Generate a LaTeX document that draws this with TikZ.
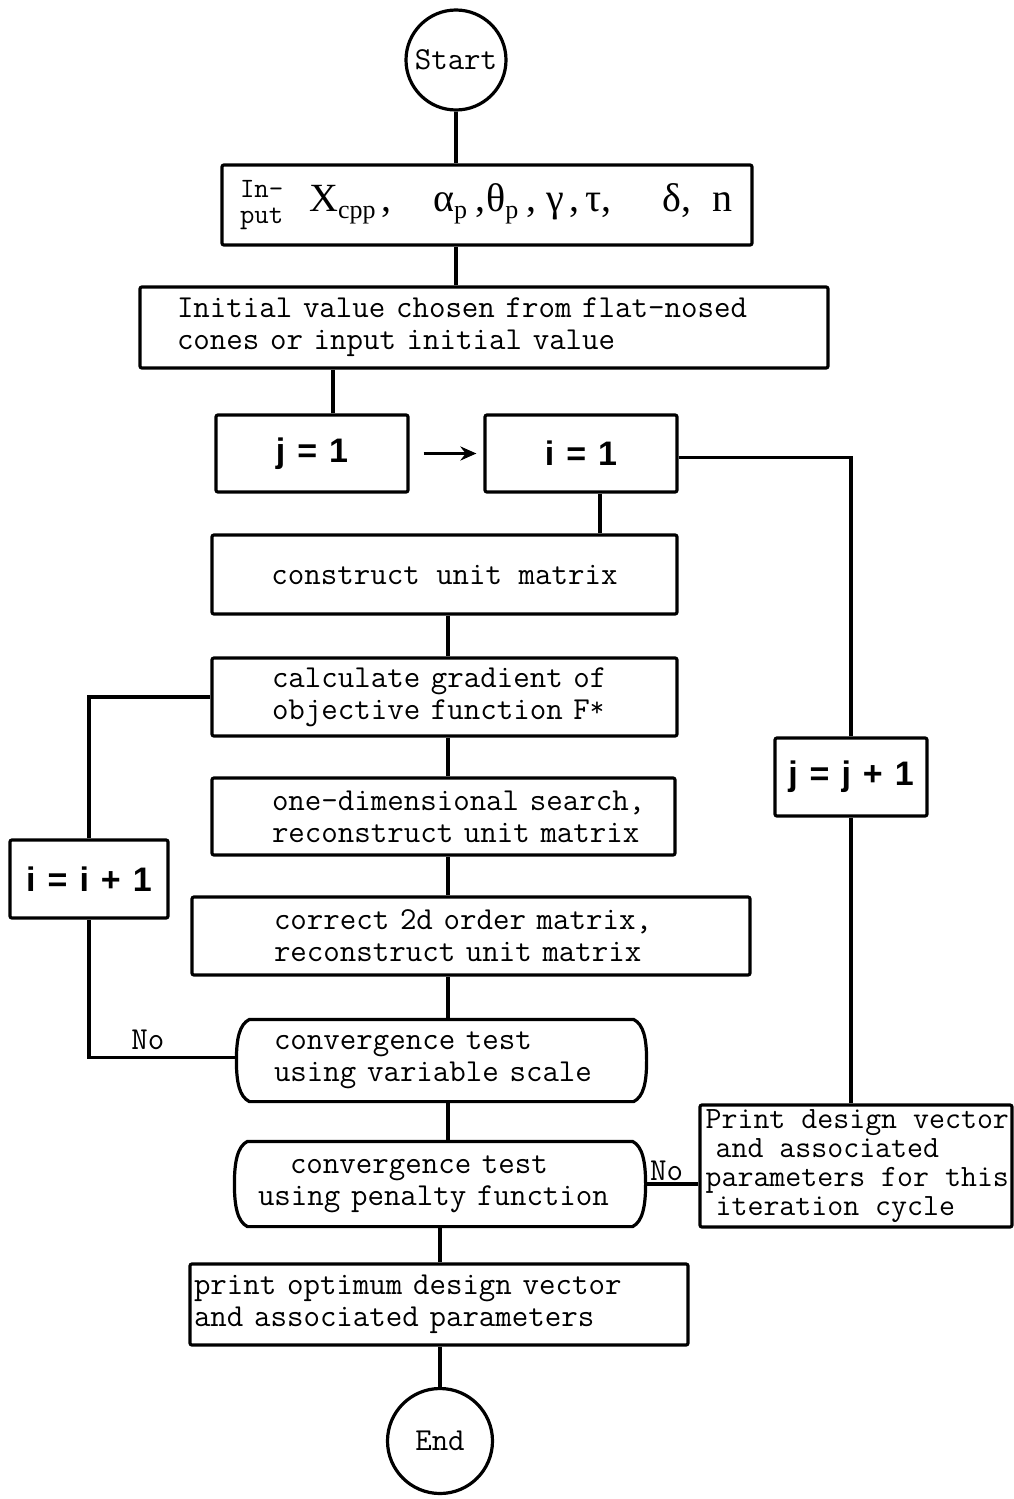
\documentclass[tikz,border=0pt]{standalone}
\usepackage{fontspec}
\usetikzlibrary{arrows.meta}
\newfontfamily\grk{Liberation Serif}
\newfontfamily\eqff{Liberation Sans}
\newcommand\tyfont{\ttfamily\fontsize{32}{32}\selectfont}
\newcommand\eqfont{\eqff\bfseries\fontsize{34}{34}\selectfont}
\newcommand\sbs[1]{\raisebox{-7pt}{\fontsize{26}{26}\selectfont #1}}
\newcommand\eqsp{\hspace{12pt}}
\begin{document}
\begin{tikzpicture}[x=1pt,y=-1pt, line width=3.2pt,
  box/.style={draw, rectangle, inner sep=0pt, rounded corners=2pt, font=\tyfont},
  lbox/.style args={#1/#2/#3}{box, minimum width=#1pt, minimum height=#2pt,
     inner xsep=#3pt, text width=#1pt-2*#3pt, align=left},
  cbox/.style args={#1/#2}{box, minimum width=#1pt, minimum height=#2pt, align=center},
  term/.style={draw, circle, inner sep=0pt, font=\tyfont},
  test/.style args={#1/#2/#3}{rectangle, inner sep=0pt, minimum width=#1pt, minimum height=#2pt,
     inner xsep=#3pt, text width=#1pt-2*#3pt, align=left, font=\tyfont},
  txt/.style={inner sep=0pt, align=left, font=\tyfont},
  lab/.style={font=\tyfont, inner sep=0pt},
  conn/.style={draw, line width=3.2pt}
]
\useasboundingbox[fill=white] (0,0) rectangle (1014,1499);

% nodes
\node[term, minimum size=100pt] (start) at (456,60) {Start};
\node[box, minimum width=530pt, minimum height=80pt, inner xsep=18pt, anchor=center] (input) at (487,205)
  {\begin{minipage}{494pt}{\ttfamily\fontsize{28}{26}\selectfont\begin{tabular}[c]{@{}l@{}}In-\\put\end{tabular}}%
   \hspace{26pt}{\grk\fontsize{40}{40}\selectfont
   \makebox[124pt][l]{X\sbs{cpp}\hspace{6pt},}%
   \makebox[53pt][l]{α\sbs{p}\hspace{8pt},}%
   \makebox[60pt][l]{θ\sbs{p}\hspace{8pt},}%
   \makebox[39pt][l]{γ\hspace{6pt},}%
   \makebox[77pt][l]{τ,}%
   \makebox[50pt][l]{δ,}%
   n}\end{minipage}};
\node[lbox=688/81/37] (init) at (484,327.5) {Initial value chosen from flat-nosed\\cones or input initial value};
\node[cbox=192/77, font=\eqfont] (j1) at (312,453.5) {j\eqsp=\eqsp1};
\node[cbox=192/77, font=\eqfont] (i1) at (581,453.5) {i\eqsp=\eqsp1};
\node[cbox=465/79] (cons) at (444.5,574.5) {construct unit matrix};
\node[lbox=465/78/60] (calc) at (444.5,697) {\mbox{calculate gradient of}\\\mbox{objective function F\raisebox{3pt}{\fontsize{28}{28}\selectfont*}}};
\node[lbox=463/77/60] (onedim) at (443.5,816.5) {\mbox{one-dimensional search,}\\\mbox{reconstruct unit matrix}};
\node[lbox=558/78/82] (corr) at (471,936) {\mbox{correct 2d order matrix,}\\\mbox{reconstruct unit matrix}};
\node[test=407/79/36] (conv1) at (441.5,1060.5) {\mbox{convergence test}\\\mbox{using variable scale}};
\node[cbox=158/78, font=\eqfont] (i2) at (89,879) {i\eqsp=\eqsp i\eqsp+\eqsp1};
\node[cbox=152/78, font=\eqfont] (j2) at (851,777) {j\eqsp=\eqsp j\eqsp+\eqsp1};
\node[test=408/82/22] (conv2) at (440,1184)
  {\mbox{\hspace*{32pt}convergence test}\\\mbox{using penalty function}};
\node[box, minimum width=312pt, minimum height=122pt] (print) at (856,1166) {};
\node[txt, anchor=north west, font=\ttfamily\fontsize{31}{29}\selectfont] (printtxt) at (704,1108)
  {Print design vector\\\hspace*{10pt}and associated\\parameters for this\\\hspace*{10pt}iteration cycle};
\node[lbox=498/81/4] (popt) at (439,1304.5) {\mbox{print optimum design vector}\\\mbox{and associated parameters}};
\node[term, minimum size=105pt] (end) at (440,1441) {End};

% test shapes
\foreach \n in {conv1,conv2}{
  \draw
    ([xshift=13pt]\n.north west) -- ([xshift=-13pt]\n.north east)
    .. controls ([xshift=-3pt,yshift=-5pt]\n.north east) and ([yshift=22pt]\n.east) .. (\n.east)
    .. controls ([yshift=-22pt]\n.east) and ([xshift=-3pt,yshift=5pt]\n.south east) .. ([xshift=-13pt]\n.south east)
    -- ([xshift=13pt]\n.south west)
    .. controls ([xshift=3pt,yshift=5pt]\n.south west) and ([yshift=-22pt]\n.west) .. (\n.west)
    .. controls ([yshift=22pt]\n.west) and ([xshift=3pt,yshift=-5pt]\n.north west) .. cycle;
}

% spine coordinate
\coordinate (spine) at (448,0);

% connectors
\draw[conn] (start.south) -- (start.south |- input.north);
\draw[conn] (start.south |- input.south) -- (start.south |- init.north);
\draw[conn] ([xshift=21pt]j1.north) -- ([xshift=21pt]j1.north |- init.south);
\draw[conn, -{Stealth[length=16pt,width=14pt]}, shorten <=14pt, shorten >=7pt] (j1.east) -- (i1.west);
\draw[conn] ([yshift=-4pt]i1.east) -| (j2.north);
\draw[conn] (j2.south) -- (j2.south |- print.north);
\draw[conn] ([xshift=19pt]i1.south) -- ([xshift=19pt]i1.south |- cons.north);
\draw[conn] (spine |- cons.south) -- (spine |- calc.north);
\draw[conn] (spine |- calc.south) -- (spine |- onedim.north);
\draw[conn] (spine |- onedim.south) -- (spine |- corr.north);
\draw[conn] (spine |- corr.south) -- (spine |- conv1.north);
\draw[conn] (spine |- conv1.south) -- (spine |- conv2.north);
\draw[conn] ([yshift=3pt]conv1.west) -| node[lab, pos=0.3, above=6pt] (no1) {No} (i2.south);
\draw[conn] (i2.north) |- (calc.west);
\draw[conn] (conv2.east) -- node[lab, above=2pt, pos=0.4] (no2) {No} (conv2.east -| print.west);
\draw[conn] (end.north |- popt.north) -- (end.north |- conv2.south);
\draw[conn] (end.north |- popt.south) -- (end.north);
\end{tikzpicture}
\end{document}
